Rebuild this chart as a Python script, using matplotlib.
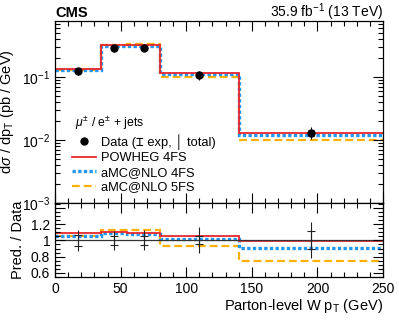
import numpy as np
import matplotlib
matplotlib.use('Agg')
import matplotlib.pyplot as plt
from matplotlib.ticker import MultipleLocator, LogLocator, NullFormatter
from matplotlib.lines import Line2D

plt.rcParams['font.family'] = ['Liberation Sans', 'DejaVu Sans', 'DejaVu Sans Mono', 'Noto Sans']
plt.rcParams['mathtext.fontset'] = 'custom'
plt.rcParams['mathtext.rm'] = 'Liberation Sans'
plt.rcParams['mathtext.it'] = 'Liberation Sans:italic'
plt.rcParams['mathtext.sf'] = 'Liberation Sans'

# binning and data (parton-level W pT)
bin_edges = [0, 35, 55, 80, 140, 250]
data_xsec = [0.122, 0.287, 0.290, 0.108, 0.0131]
# relative uncertainties: exp and total (up / down)
rel_exp = [0.07, 0.055, 0.06, 0.05, 0.11]
rel_tot_up = [0.13, 0.12, 0.13, 0.16, 0.23]
rel_tot_dn = [0.13, 0.12, 0.12, 0.16, 0.22]

# predictions
powheg_4fs = [0.1324, 0.3157, 0.3147, 0.1143, 0.01297]
amc_4fs = [0.1293, 0.3128, 0.3132, 0.1102, 0.01192]
amc_5fs = [0.1293, 0.3243, 0.3277, 0.1004, 0.00983]

c_red = '#e8262d'
c_blue = '#2196f3'
c_orange = '#ffb000'

edges = np.array(bin_edges, dtype=float)
centers = 0.5 * (edges[1:] + edges[:-1])
data = np.array(data_xsec)
exp = np.array(rel_exp)
tot_up = np.array(rel_tot_up)
tot_dn = np.array(rel_tot_dn)

fig = plt.figure(figsize=(3.99, 3.22), dpi=100)
ax = fig.add_axes([0.138, 0.3696, 0.822, 0.5652])
axr = fig.add_axes([0.138, 0.1398, 0.822, 0.2298], sharex=ax)

preds = [
    (powheg_4fs, c_red, '-', 1.3, 'POWHEG 4FS'),
    (amc_4fs, c_blue, (0, (1.0, 0.7)), 2.4, 'aMC@NLO 4FS'),
    (amc_5fs, c_orange, (0, (3.5, 1.8)), 1.6, 'aMC@NLO 5FS'),
]

# draw order: orange below, blue, red on top
for vals, col, ls, lw, lab in preds[::-1]:
    ax.stairs(vals, edges, color=col, linestyle=ls, linewidth=lw, baseline=None)
    axr.stairs(np.array(vals) / data, edges, color=col, linestyle=ls,
               linewidth=lw, baseline=None)

# data in top panel
ax.errorbar(centers, data, yerr=[data * tot_dn, data * tot_up], fmt='none',
            ecolor='black', elinewidth=0.8, capsize=0)
ax.errorbar(centers, data, yerr=data * exp, fmt='o', color='black',
            markersize=5, elinewidth=0.8, capsize=2.5, capthick=0.8)

# ratio panel
axr.axhline(1.0, color='#333333', linewidth=0.9, zorder=1)
axr.errorbar(centers, np.ones_like(centers), yerr=[tot_dn, tot_up], fmt='none',
             ecolor='#222222', elinewidth=0.8, capsize=0)
axr.errorbar(centers, np.ones_like(centers), yerr=exp, fmt='none',
             ecolor='#222222', elinewidth=0.8, capsize=3, capthick=0.8)

ax.set_yscale('log')
ax.set_xlim(0, 250)
ax.set_ylim(1e-3, 0.77)
axr.set_ylim(0.55, 1.46)

for a in (ax, axr):
    a.tick_params(which='both', direction='in', top=True, right=True,
                  labelsize=10)
    a.tick_params(which='major', length=7, width=0.8)
    a.tick_params(which='minor', length=3.5, width=0.8)
    for s in a.spines.values():
        s.set_linewidth(0.9)

ax.xaxis.set_major_locator(MultipleLocator(50))
ax.xaxis.set_minor_locator(MultipleLocator(10))
ax.tick_params(labelbottom=False)
ax.yaxis.set_major_locator(LogLocator(base=10, numticks=10))
ax.yaxis.set_minor_locator(LogLocator(base=10, subs=np.arange(2, 10), numticks=10))
ax.yaxis.set_minor_formatter(NullFormatter())

axr.set_yticks([0.6, 0.8, 1.0, 1.2, 1.4], labels=['0.6', '0.8', '1', '1.2', ''])
axr.yaxis.set_minor_locator(MultipleLocator(0.05))

ax.set_ylabel(r'd$\sigma$ / dp$_{\mathrm{T}}$ (pb / GeV)', fontsize=10.5)
axr.set_ylabel('Pred. / Data', fontsize=10.5)
axr.set_xlabel(r'Parton-level W p$_{\mathrm{T}}$ (GeV)', fontsize=10.5,
               loc='right', labelpad=1)
fig.align_ylabels([ax, axr])

ax.text(0.0, 1.022, 'CMS', transform=ax.transAxes, fontsize=10.5,
        fontweight='bold', ha='left', va='baseline')
ax.text(1.0, 1.022, r'35.9 fb$^{-1}$ (13 TeV)', transform=ax.transAxes,
        fontsize=10, ha='right', va='baseline')

handles = [
    Line2D([], [], marker='o', color='black', linestyle='none', markersize=5),
    Line2D([], [], color=c_red, linewidth=1.3),
    Line2D([], [], color=c_blue, linestyle=(0, (1.0, 0.7)), linewidth=2.4),
    Line2D([], [], color=c_orange, linestyle=(0, (3.5, 1.8)), linewidth=1.6),
]
labels = ['Data (\u2336 exp, \u2502 total)', 'POWHEG 4FS', 'aMC@NLO 4FS', 'aMC@NLO 5FS']
leg = ax.legend(handles, labels, loc='upper left', bbox_to_anchor=(0.035, 0.515),
                frameon=False, fontsize=9.3, handlelength=1.85, handletextpad=0.4,
                labelspacing=0.18, borderaxespad=0.0,
                title=r' $\mu^{\pm}$ / e$^{\pm}$ + jets', title_fontsize=8.8)
leg._legend_box.align = 'left'

fig.savefig('out.png', dpi=100)
